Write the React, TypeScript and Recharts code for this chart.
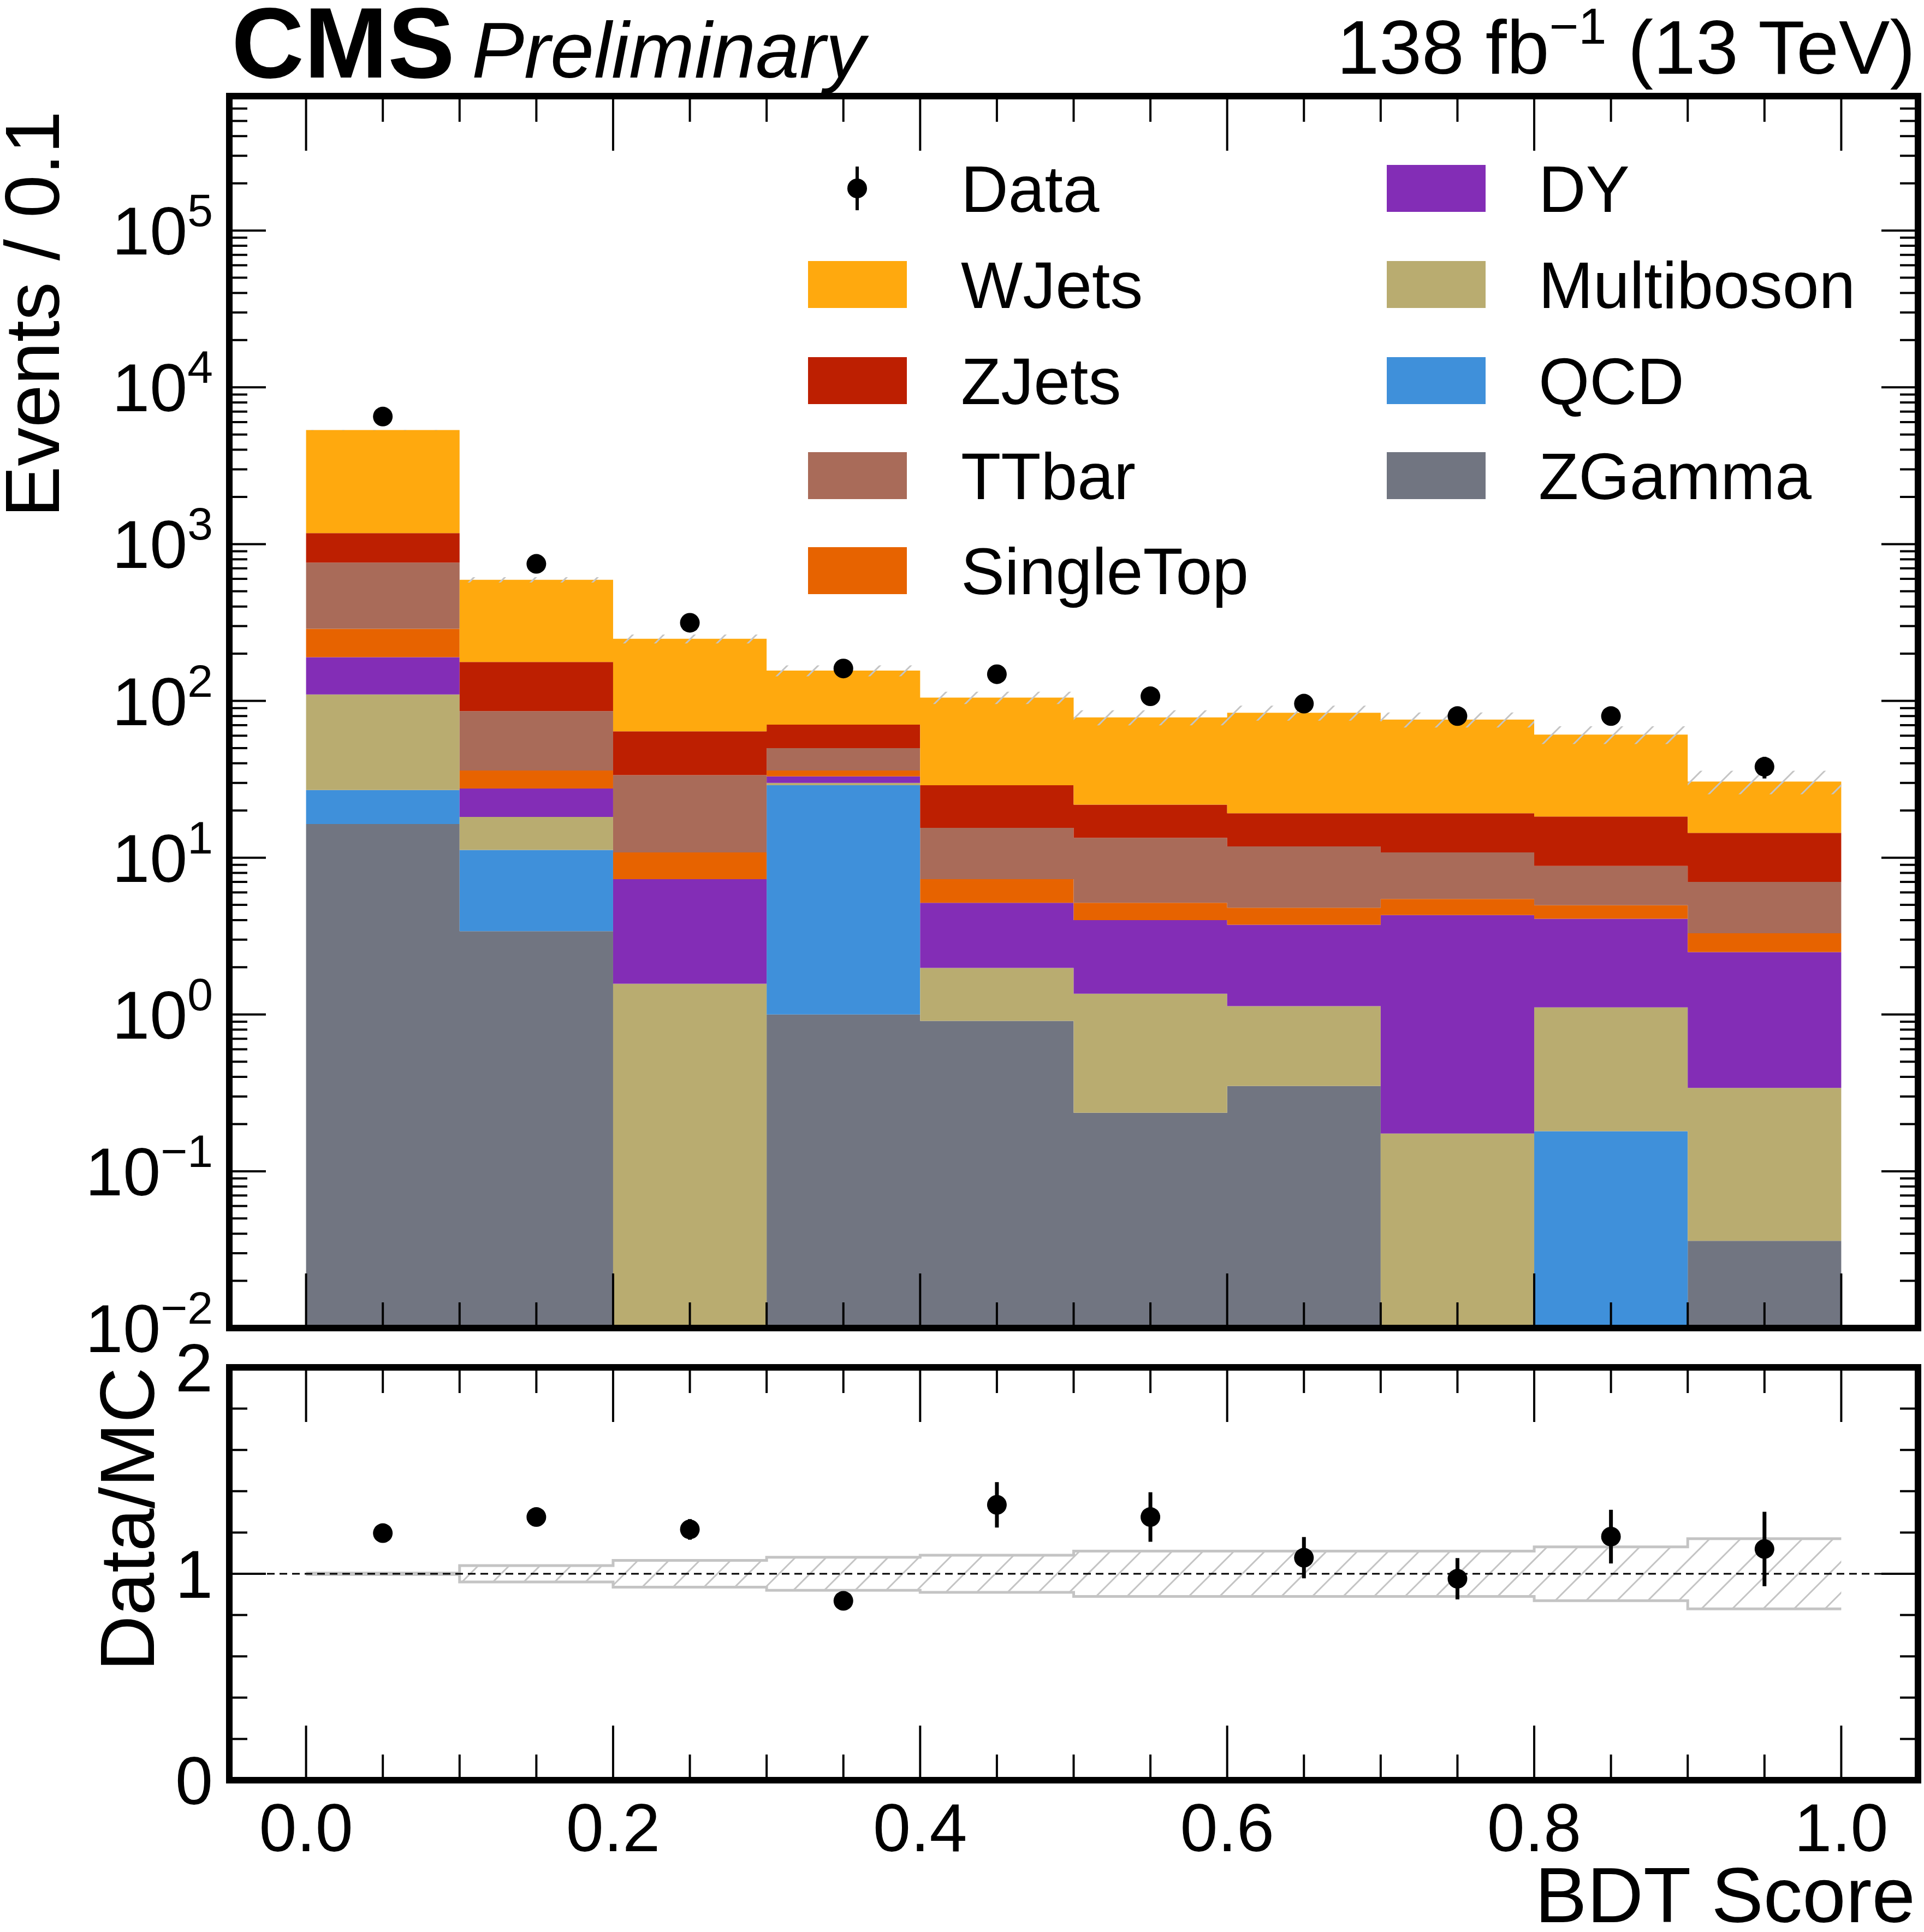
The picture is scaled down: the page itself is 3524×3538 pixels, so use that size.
import React from "react";
import { ComposedChart, Area, Scatter, ErrorBar, XAxis, YAxis, ReferenceLine } from "recharts";

const edges = [0, 0.1, 0.2, 0.3, 0.4, 0.5, 0.6, 0.7, 0.8, 0.9, 1.0];
const centers = [0.05, 0.15, 0.25, 0.35, 0.45, 0.55, 0.65, 0.75, 0.85, 0.95];

const ZGamma = [16.4, 3.4, 0, 1.0, 0.91, 0.236, 0.35, 0, 0, 0.036];
const QCD = [10.6, 7.8, 0, 28, 0, 0, 0, 0, 0.18, 0];
const Multiboson = [83, 7.0, 1.57, 1.0, 1.07, 1.12, 0.78, 0.174, 0.93, 0.304];
const DY = [80, 9.4, 5.73, 3.0, 3.18, 2.64, 2.6, 4.13, 2.97, 2.16];
const SingleTop = [98, 8.4, 3.5, 3.0, 2.14, 1.16, 1.07, 1.15, 0.89, 0.8];
const TTbar = [474, 50, 22.8, 14, 8.2, 8.24, 7.0, 5.35, 3.88, 3.7];
const ZJets = [413, 91, 30.4, 20.5, 13.5, 8.4, 7.4, 8.4, 9.45, 7.4];
const WJets = [4165, 415, 185, 85.5, 76, 56.7, 64.8, 56.8, 42.7, 16.2];

const dataCounts = [6510, 748, 315, 161, 148, 107, 96, 80, 80, 38];
const dataErrors = [81, 27, 18, 13, 12, 10, 10, 9, 9, 6];

const ratioValues = [1.197, 1.275, 1.215, 0.869, 1.334, 1.275, 1.078, 0.976, 1.18, 1.12];
const ratioErrors = [0.015, 0.045, 0.05, 0.04, 0.11, 0.12, 0.1, 0.1, 0.13, 0.18];
const mcUnc = [0.003, 0.04, 0.065, 0.08, 0.09, 0.11, 0.11, 0.11, 0.13, 0.17];

const yMajor = [1e-2, 1e-1, 1, 10, 100, 1e3, 1e4, 1e5];
const yLabelExp = ["−2", "−1", "0", "1", "2", "3", "4", "5"];
const xTicks = [0, 0.05, 0.1, 0.15, 0.2, 0.25, 0.3, 0.35, 0.4, 0.45, 0.5, 0.55, 0.6, 0.65, 0.7, 0.75, 0.8, 0.85, 0.9, 0.95, 1.0];
const xLabels = ["0.0", "0.2", "0.4", "0.6", "0.8", "1.0"];
const ratioTicks = [0, 0.2, 0.4, 0.6, 0.8, 1, 1.2, 1.4, 1.6, 1.8, 2];

const series = [
  { name: "ZGamma", values: ZGamma, color: "#717581" },
  { name: "QCD", values: QCD, color: "#3f90da" },
  { name: "Multiboson", values: Multiboson, color: "#b9ac70" },
  { name: "DY", values: DY, color: "#832db6" },
  { name: "SingleTop", values: SingleTop, color: "#e76300" },
  { name: "TTbar", values: TTbar, color: "#a96b59" },
  { name: "ZJets", values: ZJets, color: "#bd1f01" },
  { name: "WJets", values: WJets, color: "#ffa90e" },
];
const legendCol1 = ["WJets", "ZJets", "TTbar", "SingleTop"];
const legendCol2 = ["DY", "Multiboson", "QCD", "ZGamma"];

const FONT = "'Liberation Sans', Arimo, Helvetica, Arial, sans-serif";
const W = 3524;
const LEFT = 420;
const PW = 3093;
const MAIN_TOP = 176;
const MAIN_H = 2256;
const RATIO_TOP = 2504;
const RATIO_H = 756;
const YMIN = 0.01;
const YMAX = 7.2e5;
const YAXW = 400;
const TICKFS = 124;

const rows = edges.map((x, i) => {
  const b = Math.min(i, 9);
  const row: any = { x };
  let cum = 0;
  series.forEach((s) => {
    const lo = cum;
    cum += s.values[b];
    row[s.name] = [Math.max(lo, YMIN), Math.max(cum, YMIN)];
  });
  row.band = [cum * (1 - mcUnc[b]), cum * (1 + mcUnc[b])];
  row.rband = [1 - mcUnc[b], 1 + mcUnc[b]];
  return row;
});
const points = centers.map((x, i) => ({ x, y: dataCounts[i], err: dataErrors[i] }));
const rpoints = centers.map((x, i) => ({ x, y: ratioValues[i], err: ratioErrors[i] }));

const isMajorY = (v: number) => yMajor.some((m) => Math.abs(v / m - 1) < 1e-6);
const yTicksLog: number[] = [];
for (let k = -2; k <= 5; k++) {
  for (let m = 1; m <= 9; m++) {
    const v = m * Math.pow(10, k);
    if (v <= YMAX) yTicksLog.push(v);
  }
}

const LogYTick = (props: any) => {
  const { x, y, payload } = props;
  const v = payload.value;
  const major = isMajorY(v);
  const len = major ? 67 : 33;
  const idx = yMajor.findIndex((m) => Math.abs(v / m - 1) < 1e-6);
  return (
    <g>
      <line x1={x} x2={x + len} y1={y} y2={y} stroke="#000" strokeWidth={4} />
      <line x1={x + PW} x2={x + PW - len} y1={y} y2={y} stroke="#000" strokeWidth={4} />
      {major && (
        <text x={x - 30} y={y + 44} textAnchor="end" fontSize={TICKFS} fontFamily={FONT} fill="#000">
          <tspan>10</tspan>
          <tspan dy={-52} fontSize={84}>{yLabelExp[idx]}</tspan>
        </text>
      )}
    </g>
  );
};

const makeXTick = (ph: number, labels: boolean) => (props: any) => {
  const { x, y, payload } = props;
  const v = payload.value;
  const major = Math.abs(v * 5 - Math.round(v * 5)) < 1e-6;
  const len = major ? 100 : 47;
  return (
    <g>
      <line x1={x} x2={x} y1={y} y2={y - len} stroke="#000" strokeWidth={4} />
      <line x1={x} x2={x} y1={y - ph} y2={y - ph + len} stroke="#000" strokeWidth={4} />
      {labels && major && (
        <text x={x} y={y + 130} textAnchor="middle" fontSize={TICKFS} fontFamily={FONT} fill="#000">
          {xLabels[Math.round(v * 5)]}
        </text>
      )}
    </g>
  );
};

const RatioYTick = (props: any) => {
  const { x, y, payload } = props;
  const v = payload.value;
  const major = Math.abs(v - Math.round(v)) < 1e-6;
  const len = major ? 67 : 33;
  return (
    <g>
      <line x1={x} x2={x + len} y1={y} y2={y} stroke="#000" strokeWidth={4} />
      <line x1={x + PW} x2={x + PW - len} y1={y} y2={y} stroke="#000" strokeWidth={4} />
      {major && (
        <text x={x - 30} y={y + 44} textAnchor="end" fontSize={TICKFS} fontFamily={FONT} fill="#000">
          {String(Math.round(v))}
        </text>
      )}
    </g>
  );
};

const Dot = (p: any) => <circle cx={p.cx} cy={p.cy} r={18} fill="#000" />;

export default function App() {
  const legendRowsY = [345, 521, 697, 871, 1045];
  const colorOf = (n: string) => series.find((s) => s.name === n)!.color;
  const mainXH = 100;
  const ratioXH = 250;
  return (
    <div style={{ position: "absolute", left: 0, top: 0, width: W, height: 3538, background: "#fff", fontFamily: FONT }}>
      <svg width={0} height={0} style={{ position: "absolute" }}>
        <defs>
          <pattern id="hatch" patternUnits="userSpaceOnUse" width={40} height={40} patternTransform="rotate(45)">
            <line x1={0} y1={0} x2={0} y2={40} stroke="#c4c4c4" strokeWidth={6} />
          </pattern>
        </defs>
      </svg>
      <div style={{ position: "absolute", left: 0, top: 0 }}>
        <ComposedChart width={W} height={MAIN_TOP + MAIN_H + mainXH} data={rows}
          margin={{ top: MAIN_TOP, bottom: 0, left: LEFT - YAXW, right: W - LEFT - PW }}>
          <XAxis dataKey="x" type="number" domain={[-0.05, 1.05]} allowDataOverflow ticks={xTicks}
            height={mainXH} tickSize={0} tickMargin={0} axisLine={false} tickLine={false}
            tick={makeXTick(MAIN_H, false)} interval={0} />
          <YAxis type="number" scale="log" domain={[YMIN, YMAX]} allowDataOverflow ticks={yTicksLog}
            width={YAXW} tickSize={0} tickMargin={0} axisLine={false} tickLine={false}
            tick={<LogYTick />} interval={0} />
          {series.map((s) => (
            <Area key={s.name} dataKey={s.name} type="stepAfter" stroke="none" fill={s.color}
              fillOpacity={1} isAnimationActive={false} dot={false} activeDot={false} />
          ))}
          <Area dataKey="band" type="stepAfter" stroke="none" fill="url(#hatch)" fillOpacity={1}
            isAnimationActive={false} dot={false} activeDot={false} />
          <Scatter data={points} dataKey="y" shape={<Dot />} isAnimationActive={false}>
            <ErrorBar dataKey="err" direction="y" width={0} stroke="#000" strokeWidth={7} />
          </Scatter>
        </ComposedChart>
      </div>
      <div style={{ position: "absolute", left: 0, top: 2440 }}>
        <ComposedChart width={W} height={(RATIO_TOP - 2440) + RATIO_H + ratioXH} data={rows}
          margin={{ top: RATIO_TOP - 2440, bottom: 0, left: LEFT - YAXW, right: W - LEFT - PW }}>
          <XAxis dataKey="x" type="number" domain={[-0.05, 1.05]} allowDataOverflow ticks={xTicks}
            height={ratioXH} tickSize={0} tickMargin={0} axisLine={false} tickLine={false}
            tick={makeXTick(RATIO_H, true)} interval={0} />
          <YAxis type="number" domain={[0, 2]} allowDataOverflow ticks={ratioTicks}
            width={YAXW} tickSize={0} tickMargin={0} axisLine={false} tickLine={false}
            tick={<RatioYTick />} interval={0} />
          <Area dataKey="rband" type="stepAfter" stroke="#c4c4c4" strokeWidth={5} fill="url(#hatch)" fillOpacity={1}
            isAnimationActive={false} dot={false} activeDot={false} />
          <ReferenceLine y={1} stroke="#000" strokeWidth={3} strokeDasharray="14 9" />
          <Scatter data={rpoints} dataKey="y" shape={<Dot />} isAnimationActive={false}>
            <ErrorBar dataKey="err" direction="y" width={0} stroke="#000" strokeWidth={7} />
          </Scatter>
        </ComposedChart>
      </div>
      <svg width={W} height={3538} style={{ position: "absolute", left: 0, top: 0, pointerEvents: "none" }} fontFamily={FONT}>
        <rect x={LEFT} y={MAIN_TOP} width={PW} height={MAIN_H} fill="none" stroke="#000" strokeWidth={12} />
        <rect x={LEFT} y={RATIO_TOP} width={PW} height={RATIO_H} fill="none" stroke="#000" strokeWidth={12} />
        <text x={424} y={142} fontSize={184} fontWeight="bold">CMS</text>
        <text x={864} y={142} fontSize={144} fontStyle="italic">Preliminary</text>
        <text x={3508} y={135} fontSize={140} textAnchor="end">
          <tspan>138 fb</tspan>
          <tspan dy={-55} fontSize={92}>−1</tspan>
          <tspan dy={55}> (13 TeV)</tspan>
        </text>
        <text transform="translate(108,203) rotate(-90)" fontSize={141} textAnchor="end">Events / 0.1</text>
        <text transform={`translate(282,${RATIO_TOP}) rotate(-90)`} fontSize={141} textAnchor="end">Data/MC</text>
        <text x={3508} y={3520} fontSize={143} textAnchor="end">BDT Score</text>
        <line x1={1570} x2={1570} y1={305} y2={385} stroke="#000" strokeWidth={6} />
        <circle cx={1570} cy={345} r={18} fill="#000" />
        <text x={1760} y={388} fontSize={120}>Data</text>
        {legendCol1.map((n, i) => (
          <g key={n}>
            <rect x={1480} y={legendRowsY[i + 1] - 43} width={181} height={86} fill={colorOf(n)} />
            <text x={1760} y={legendRowsY[i + 1] + 43} fontSize={120}>{n}</text>
          </g>
        ))}
        {legendCol2.map((n, i) => (
          <g key={n}>
            <rect x={2540} y={legendRowsY[i] - 43} width={181} height={86} fill={colorOf(n)} />
            <text x={2818} y={legendRowsY[i] + 43} fontSize={120}>{n}</text>
          </g>
        ))}
      </svg>
    </div>
  );
}
